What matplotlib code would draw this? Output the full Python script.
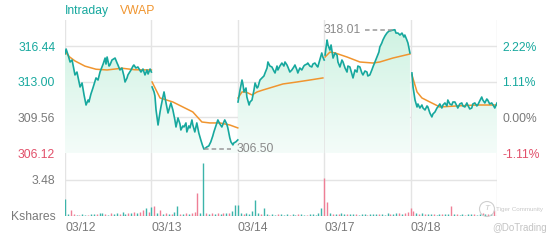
import numpy as np
import matplotlib
matplotlib.use('Agg')
import matplotlib.pyplot as plt
from matplotlib.colors import LinearSegmentedColormap
from matplotlib.patches import Ellipse

plt.rcParams['font.family'] = ['Liberation Sans', 'DejaVu Sans']

days = ['03/12', '03/13', '03/14', '03/17', '03/18']
prev_close = 309.56
price_ticks = [306.12, 309.56, 313.00, 316.44]
vol_tick = 3.48

# minutes since the open (0-390) and price, one list per session
t1 = [0, 5, 14, 23, 32, 45, 54, 68, 77, 86, 95, 104, 108, 117, 126, 140, 149, 158, 172, 181,
      185, 190, 199, 203, 212, 226, 235, 239, 248, 257, 266, 271, 280, 284, 298, 307, 311, 320,
      329, 343, 352, 361, 370, 375, 384, 390]
p1 = [315.67, 316.15, 315.57, 314.90, 315.09, 313.65, 313.93, 312.49, 312.87, 311.72, 310.75,
      311.23, 311.04, 311.81, 312.39, 313.36, 313.16, 313.93, 314.70, 315.28, 314.70, 315.38,
      314.51, 314.61, 315.09, 315.28, 314.80, 314.61, 314.13, 314.32, 313.55, 312.97, 313.36,
      313.65, 314.13, 314.51, 314.61, 314.32, 314.42, 313.93, 314.22, 313.65, 314.13, 313.74,
      314.22, 313.93]

t2 = [3, 12, 16, 21, 30, 39, 43, 52, 57, 66, 75, 84, 88, 97, 106, 111, 120, 129, 133, 142, 147,
      156, 160, 169, 174, 183, 187, 196, 205, 214, 223, 230, 237, 246, 250, 259, 268, 277, 282,
      291, 300, 309, 318, 327, 331, 340, 345, 354, 359, 368, 372, 381, 390]
p2 = [312.49, 312.01, 311.62, 310.27, 308.82, 310.08, 310.56, 311.52, 312.01, 310.95, 309.98,
      310.66, 310.95, 310.27, 309.31, 308.63, 309.50, 308.92, 308.34, 308.73, 308.63, 309.02,
      308.15, 308.73, 308.54, 309.31, 308.82, 308.15, 309.02, 308.05, 307.38, 306.90, 306.50,
      306.62, 306.70, 306.80, 307.19, 307.76, 308.15, 308.73, 309.31, 308.92, 308.63, 309.11,
      309.31, 308.92, 308.54, 307.57, 307.19, 306.90, 307.09, 307.19, 307.38]

t3 = [1, 10, 19, 23, 28, 37, 41, 51, 55, 64, 73, 78, 87, 91, 100, 109, 118, 123, 132, 136, 145,
      154, 163, 168, 177, 181, 190, 199, 208, 213, 222, 226, 235, 244, 253, 258, 267, 271, 280,
      289, 298, 303, 312, 316, 325, 334, 339, 348, 357, 361, 370, 379, 384, 390]
p3 = [311.04, 312.20, 313.16, 312.78, 312.01, 312.39, 311.52, 310.75, 311.04, 311.23, 312.20,
      312.87, 312.39, 312.49, 313.16, 313.36, 313.55, 313.84, 314.32, 314.90, 314.51, 314.42,
      314.03, 313.84, 314.51, 314.13, 314.51, 314.80, 314.51, 314.90, 314.61, 314.42, 313.93,
      314.13, 314.42, 314.61, 314.13, 313.84, 314.32, 314.13, 314.51, 314.61, 314.70, 314.80,
      314.51, 314.42, 314.70, 314.80, 314.51, 314.42, 315.09, 315.77, 315.38, 315.09]

t4 = [4, 8, 13, 17, 26, 31, 40, 49, 58, 62, 71, 80, 85, 94, 103, 107, 116, 125, 130, 139, 148,
      152, 161, 170, 175, 184, 193, 197, 206, 215, 220, 229, 238, 247, 251, 260, 265, 274, 283,
      292, 301, 310, 319, 324, 333, 342, 351, 360, 364, 373, 378, 387]
p4 = [315.57, 316.25, 317.02, 316.54, 316.05, 316.54, 315.28, 315.77, 315.57, 314.90, 314.42,
      315.09, 314.90, 314.32, 313.93, 314.51, 314.42, 313.74, 313.36, 314.13, 313.93, 314.51,
      314.42, 313.84, 313.65, 314.03, 313.93, 313.55, 313.65, 314.13, 314.42, 314.90, 315.38,
      315.86, 316.34, 316.73, 317.02, 317.40, 317.69, 317.88, 317.92, 317.98, 318.01, 317.69,
      317.69, 317.50, 317.69, 317.31, 317.50, 317.02, 316.73, 315.77]

t5 = [6, 11, 20, 29, 33, 42, 51, 56, 65, 74, 78, 87, 96, 101, 110, 119, 123, 132, 141, 146, 155,
      164, 168, 177, 186, 191, 200, 209, 213, 222, 231, 236, 245, 254, 258, 267, 276, 281, 290,
      299, 303, 312, 321, 326, 335, 344, 348, 357, 366, 375, 380, 390]
p5 = [313.84, 312.49, 311.23, 310.56, 310.85, 310.46, 310.75, 310.46, 310.27, 310.66, 310.56,
      309.98, 309.60, 309.89, 310.08, 310.46, 310.56, 310.85, 310.46, 310.75, 310.95, 310.66,
      311.23, 310.85, 310.75, 311.04, 311.04, 310.66, 310.46, 310.85, 310.95, 310.66, 310.56,
      310.95, 310.75, 310.37, 310.46, 310.85, 310.95, 310.66, 310.75, 311.14, 311.52, 311.23,
      310.95, 311.33, 311.23, 310.85, 310.95, 310.66, 310.46, 310.95]

# VWAP per session
vt1 = [0, 20, 45, 90, 140, 190, 257, 315, 390]
vp1 = [315.90, 315.40, 315.00, 314.50, 314.20, 314.13, 314.30, 314.15, 314.13]
vt2 = [3, 39, 97, 142, 187, 228, 264, 309, 354, 390]
vp2 = [312.97, 311.43, 311.04, 310.56, 310.08, 309.11, 309.02, 309.02, 308.82, 308.54]
vt3 = [1, 19, 32, 46, 64, 87, 114, 159, 204, 267, 325, 384]
vp3 = [311.43, 312.01, 312.01, 311.91, 311.72, 312.01, 312.20, 312.49, 312.78, 312.97, 313.16, 313.36]
vt4 = [4, 26, 49, 103, 161, 220, 251, 310, 387]
vp4 = [315.38, 315.86, 315.77, 315.38, 314.90, 314.80, 314.90, 315.28, 315.67]
vt5 = [6, 29, 51, 87, 132, 209, 299, 390]
vp5 = [313.65, 312.01, 311.43, 311.04, 310.56, 310.66, 310.75, 310.75]

# volume in Kshares, 30 buckets per session; sign = up (+) / down (-) tick
vol1 = [1.6, 0.2, -0.6, -0.15, 0.1, -0.1, 0.15, 0.1, -0.1, 0.2, 0.15, -0.2, 0.25, 0.3, -0.2,
        0.1, -0.25, 0.15, 0.3, -0.2, 0.35, 0.2, -0.3, 0.25, -0.4, 0.3, -0.35, -0.6, 0.8, -0.4]
vol2 = [0.9, -1.0, 0.3, -0.6, 0.2, -0.3, 0.15, -0.2, 0.4, 1.0, -0.2, 0.15, -0.25, 0.2, -0.3,
        -0.4, -2.2, 0.3, 5.1, -0.3, 0.2, -0.25, 0.15, -0.3, 0.2, -0.25, 0.3, -0.3, 0.5, 1.1]
vol3 = [1.1, 0.3, -0.2, 0.25, 0.2, 0.5, 1.5, 0.3, -0.2, 0.8, 0.15, -0.1, 0.2, 0.1, -0.15,
        0.2, 0.1, 0.15, -0.1, 0.2, 0.1, -0.15, 0.15, 0.1, -0.1, 0.2, 0.15, 0.1, 0.3, 0.8]
vol4 = [-3.7, -1.4, 0.3, -0.2, 0.2, -0.15, 0.3, 0.15, -0.2, 0.15, 0.2, -0.15, 0.1, 0.2, 0.15,
        -0.1, 0.2, 0.15, 0.2, -0.15, 0.2, 0.1, 0.25, -0.2, 0.15, 0.3, -0.25, 0.2, -0.3, -0.4]
vol5 = [-0.8, -0.5, 0.3, -0.2, 0.25, -0.15, 0.2, 0.15, -0.2, 0.1, 0.2, -0.15, 0.15, 0.2, -1.0,
        0.15, -0.2, 0.1, 0.15, -0.1, 0.2, 0.15, -0.15, 0.1, 0.2, -0.3, 0.2, -0.2, 0.15, -0.6]

prices = [(t1, p1), (t2, p2), (t3, p3), (t4, p4), (t5, p5)]
vwaps = [(vt1, vp1), (vt2, vp2), (vt3, vp3), (vt4, vp4), (vt5, vp5)]
vols = [vol1, vol2, vol3, vol4, vol5]

TEAL = '#17a89e'
ORANGE = '#f0952f'
RED = '#e2506a'
UPVOL = '#3cb4aa'
DNVOL = '#ef7f96'
GRAY = '#7a7a7a'
GRID = '#e4e4e4'
SESSION = 390.0

fig = plt.figure(figsize=(5.6, 2.4), dpi=100)
ax = fig.add_axes([65 / 560, 87 / 240, 432 / 560, 133 / 240])
axv = fig.add_axes([65 / 560, 24 / 240, 432 / 560, 63 / 240])

ylo, yhi = 306.12, 318.95
ax.set_xlim(0, 5)
ax.set_ylim(ylo, yhi)

cmap = LinearSegmentedColormap.from_list('mint', ['#f4fcf9', '#cdf2e1'])
grad = np.linspace(0, 1, 100).reshape(-1, 1)

for d in range(5):
  t, p = prices[d]
  x = d + np.array(t) / SESSION
  poly = ax.fill_between(x, p, ylo, color='none', lw=0)
  im = ax.imshow(grad, cmap=cmap, aspect='auto', origin='lower',
                 extent=[0, 5, ylo, yhi], zorder=1)
  im.set_clip_path(poly.get_paths()[0], transform=ax.transData)
  ax.plot(x, p, color=TEAL, lw=1.2, zorder=4)
  vt, vp = vwaps[d]
  ax.plot(d + np.array(vt) / SESSION, vp, color=ORANGE, lw=1.1, zorder=3)

ax.set_xlim(0, 5)
ax.set_ylim(ylo, yhi)

for y in price_ticks:
  ax.axhline(y, color=GRID, lw=1, zorder=0)
for d in range(6):
  ax.axvline(d, color=GRID, lw=1, zorder=0)
  axv.axvline(d, color=GRID, lw=1, zorder=0)
for s in ax.spines.values():
  s.set_visible(False)

ax.set_xticks([])
ax.set_yticks(price_ticks)
ax.set_yticklabels([f'{v:.2f}' for v in price_ticks], fontsize=8.7)
ax.tick_params(axis='y', length=0, pad=7)
ax2 = ax.twinx()
ax2.set_ylim(ylo, yhi)
ax2.set_yticks(price_ticks)
ax2.set_yticklabels([f'{(v / prev_close - 1) * 100:.2f}%' for v in price_ticks], fontsize=8.7)
ax2.tick_params(axis='y', length=0, pad=4)
for s in ax2.spines.values():
  s.set_visible(False)
for lab, v in zip(ax.get_yticklabels(), price_ticks):
  lab.set_color(TEAL if v > prev_close else (RED if v < prev_close else GRAY))
for lab, v in zip(ax2.get_yticklabels(), price_ticks):
  lab.set_color(TEAL if v > prev_close else (RED if v < prev_close else GRAY))

# high / low markers
all_x = np.concatenate([d + np.array(prices[d][0]) / SESSION for d in range(5)])
all_p = np.concatenate([prices[d][1] for d in range(5)])
ih, il = np.argmax(all_p), np.argmin(all_p)
ax.plot([all_x[ih] - 0.34, all_x[ih]], [all_p[ih]] * 2, color='#999999', lw=1.1, ls=(0, (3, 2)), zorder=5)
ax.text(all_x[ih] - 0.40, all_p[ih], f'{all_p[ih]:.2f}', color='#8a8a8a', fontsize=8.7,
        ha='right', va='center', zorder=6)
ax.plot([all_x[il], all_x[il] + 0.31], [all_p[il]] * 2, color='#999999', lw=1.1, ls=(0, (3, 2)), zorder=5)
ax.text(all_x[il] + 0.38, all_p[il], f'{all_p[il]:.2f}', color='#8a8a8a', fontsize=8.7,
        ha='left', va='center', zorder=6)

# legend
fig.text(65 / 560, 1 - 11 / 240, 'Intraday', color=TEAL, fontsize=8.7, va='center', ha='left')
fig.text(120 / 560, 1 - 11 / 240, 'VWAP', color=ORANGE, fontsize=8.7, va='center', ha='left')

# volume panel
for d in range(5):
  v = np.array(vols[d])
  x = d + np.arange(len(v)) / len(v)
  axv.vlines(x, 0, np.abs(v), colors=np.where(v >= 0, UPVOL, DNVOL), lw=1, zorder=3)
axv.set_xlim(0, 5)
axv.set_ylim(0, 6.09)
axv.axhline(vol_tick, color=GRID, lw=1, zorder=0)
axv.axhline(0, color=GRID, lw=1, zorder=0)
for s in axv.spines.values():
  s.set_visible(False)
axv.set_yticks([0, vol_tick])
axv.set_yticklabels(['Kshares', f'{vol_tick:.2f}'], fontsize=8.7, color=GRAY)
axv.tick_params(axis='y', length=0, pad=7)
axv.set_xticks(range(5))
axv.set_xticklabels(days, fontsize=8.7, color=GRAY, ha='left')
axv.tick_params(axis='x', length=0, pad=4)

# watermark
fig.add_artist(Ellipse((487 / 560, 1 - 209 / 240), 15 / 560, 15 / 240, transform=fig.transFigure,
                       fill=False, ec='#cfcfcf', lw=0.8))
fig.text(487 / 560, 1 - 209 / 240, 'T', color='#c8c8c8', fontsize=6, va='center', ha='center',
         style='italic')
fig.text(496 / 560, 1 - 209 / 240, 'Tiger Community', color='#c8c8c8', fontsize=4.5, va='center', ha='left')
fig.text(492 / 560, 1 - 228 / 240, '@DoTrading', color='#c4c4c4', fontsize=7, va='center', ha='left')

fig.savefig('out.png', dpi=100)
